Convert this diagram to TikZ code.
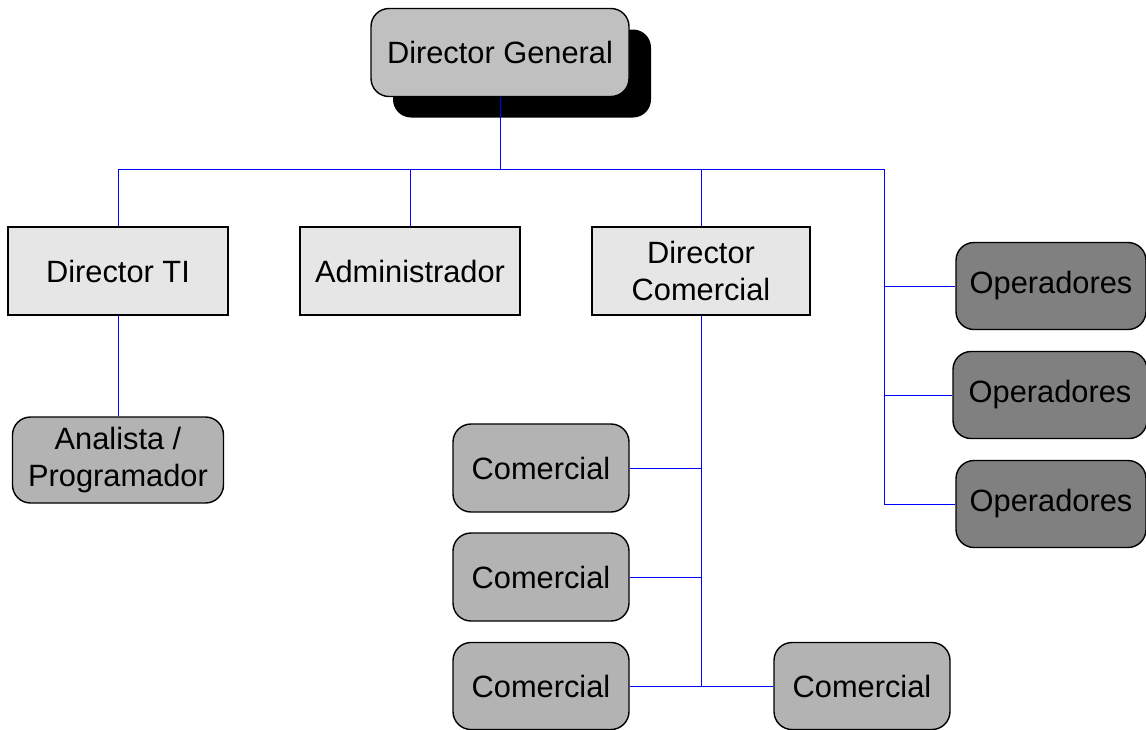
\documentclass[tikz,border=0pt]{standalone}
\usepackage{fontspec}
\setmainfont{Liberation Sans}
\usetikzlibrary{shadows}
\definecolor{dirfill}{HTML}{E6E6E6}
\definecolor{topfill}{HTML}{C0C0C0}
\definecolor{staff}{HTML}{B3B3B3}
\definecolor{opfill}{HTML}{808080}
\definecolor{link}{HTML}{0000FF}
\begin{document}
\begin{tikzpicture}[x=1pt,y=-1pt,
  every node/.style={font=\fontsize{30.8}{37}\selectfont, align=center, inner sep=0pt},
  base/.style={draw=black, line width=1.4pt, minimum height=88pt},
  director/.style={base, fill=dirfill},
  staffbox/.style={base, fill=staff, rounded corners=18pt, minimum width=176pt},
  opbox/.style={base, fill=opfill, rounded corners=18pt, minimum width=190pt, minimum height=87pt},
  topbox/.style={base, fill=topfill, rounded corners=18pt, minimum width=258pt,
    general shadow={fill=black, shadow xshift=22pt, shadow yshift=-21pt}},
  wire/.style={draw=link, line width=0.9pt}]
\useasboundingbox (0,0) rectangle (1146,729);

% boxes
\node[topbox] (dg) at (500,52.5) {Director General};
\node[director, minimum width=220pt] (ti) at (118,271) {Director TI};
\node[director, minimum width=220pt] (adm) at (410,271) {Administrador};
\node[director, minimum width=218pt] (dc) at (701,271) {Director\\Comercial};
\node[staffbox, minimum width=211pt, minimum height=86pt] (an) at (118,460) {Analista /\\Programador};
\node[staffbox] (c1) at (541,468) {Comercial};
\node[staffbox] (c2) at (541,577) {Comercial};
\node[staffbox, minimum height=87pt] (c3) at (541,686) {Comercial};
\node[staffbox, minimum height=87pt] (c4) at (862,686) {Comercial};
\node[opbox] (o1) at (1051,286) {Operadores};
\node[opbox, minimum width=194pt] (o2) at (1050,395) {Operadores};
\node[opbox] (o3) at (1051,504) {Operadores};

% bus lines
\coordinate (bus) at (500,169);
\coordinate (opx) at (884,169);
\draw[wire] (dg.south) -- (bus);
\draw[wire] (ti.north |- bus) -- (opx);
\draw[wire] (ti.north) -- (ti.north |- bus);
\draw[wire] (adm.north) -- (adm.north |- bus);
\draw[wire] (dc.north) -- (dc.north |- bus);
\draw[wire] (opx) -- (opx |- o3.west) -- (o3.west);
\draw[wire] (opx |- o1.west) -- (o1.west);
\draw[wire] (opx |- o2.west) -- (o2.west);
\draw[wire] (ti.south) -- (an.north);
\draw[wire] (dc.south) -- (dc.south |- c3.east);
\draw[wire] (c1.east) -- (dc.south |- c1.east);
\draw[wire] (c2.east) -- (dc.south |- c2.east);
\draw[wire] (c3.east) -- (c4.west);
\end{tikzpicture}
\end{document}
